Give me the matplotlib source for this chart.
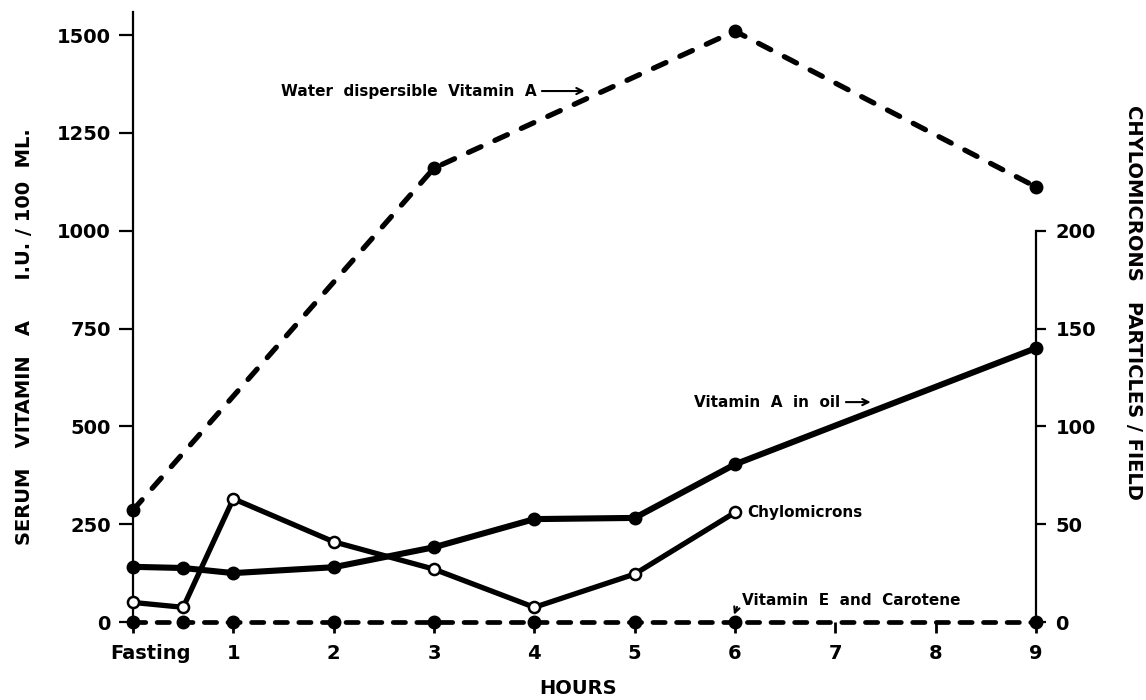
import matplotlib
matplotlib.use("Agg")
import matplotlib.pyplot as plt
from matplotlib.transforms import ScaledTranslation

plt.rcParams['font.family'] = ['DejaVu Sans']

# hours after dose (0 = fasting)
hours_water = [0, 3, 6, 9]
water_vit_a = [286, 1160, 1510, 1112]

hours_oil = [0, 0.5, 1, 2, 3, 4, 5, 6, 9]
oil_vit_a = [141, 138, 125, 140, 191, 263, 266, 403, 700]

hours_chylo = [0, 0.5, 1, 2, 3, 4, 5, 6]
chylomicrons = [10, 7.5, 63, 41, 27, 7.5, 24.5, 56]

hours_e = [0, 0.5, 1, 2, 3, 4, 5, 6, 9]
vit_e_carotene = [0, 0, 0, 0, 0, 0, 0, 0, 0]

xticks = [0, 1, 2, 3, 4, 5, 6, 7, 8, 9]
xlabels = ['Fasting', '1', '2', '3', '4', '5', '6', '7', '8', '9']
left_ticks = [0, 250, 500, 750, 1000, 1250, 1500]
right_ticks = [0, 50, 100, 150, 200]

fig = plt.figure(figsize=(11.46, 7.0), dpi=100)
ax = fig.add_axes([133/1146, 1 - 622/700, (1036-133)/1146, (622-12)/700])
ax.set_xlim(0, 9)
ax.set_ylim(0, 1559)

# chylomicrons on the right scale (200 particles = 1000 I.U.)
ax2 = ax.twinx()
ax2.set_ylim(0, 1559/5)

ax.plot(hours_water, water_vit_a, color='black', lw=3.8, ls=(0, (2.6, 2.9)),
        dash_capstyle='round', marker='o', ms=9, clip_on=False, zorder=4)
ax.plot(hours_oil, oil_vit_a, color='black', lw=4.4, marker='o', ms=9,
        clip_on=False, zorder=4)
ax.plot(hours_e, vit_e_carotene, color='black', lw=3.4, ls=(0, (2.6, 2.4)),
        dash_capstyle='round', marker='o', ms=9, clip_on=False, zorder=4)
ax2.plot(hours_chylo, chylomicrons, color='black', lw=3.8, marker='o', ms=8,
         mfc='white', mec='black', mew=1.8, clip_on=False, zorder=5)

for s in ['top', 'bottom']:
    ax.spines[s].set_visible(False)
    ax2.spines[s].set_visible(False)
ax.spines['right'].set_visible(False)
ax2.spines['left'].set_visible(False)
ax.spines['left'].set_linewidth(1.6)
ax2.spines['right'].set_linewidth(1.6)
ax2.spines['right'].set_bounds(0, 200)

ax.set_xticks(xticks)
ax.set_xticklabels(xlabels)
ax.set_yticks(left_ticks)
ax2.set_yticks(right_ticks)
ax.tick_params(axis='x', length=8, width=2, pad=8, labelsize=14)
ax.tick_params(axis='y', length=10, width=1.6, pad=6, labelsize=14)
ax2.tick_params(axis='y', length=7, width=1.6, pad=7, labelsize=14)
for lab in ax.get_xticklabels() + ax.get_yticklabels() + ax2.get_yticklabels():
    lab.set_fontweight('bold')

# "Fasting" sits a little right of its tick in the original
fl = ax.get_xticklabels()[0]
fl.set_transform(fl.get_transform() + ScaledTranslation(0.17, 0, fig.dpi_scale_trans))

fig.text(25/1146, 1 - 337/700, 'SERUM   VITAMIN   A      I.U. / 100  ML.', rotation=90,
         ha='center', va='center', fontsize=14, fontweight='bold')
fig.text(1133/1146, 1 - 302/700, 'CHYLOMICRONS   PARTICLES / FIELD', rotation=-90,
         ha='center', va='center', fontsize=14, fontweight='bold')
fig.text(578/1146, 1 - 688/700, 'HOURS', ha='center', va='center',
         fontsize=14, fontweight='bold')

arrow = dict(arrowstyle='->', color='black', lw=1.5)
ax.annotate('Water  dispersible  Vitamin  A', xy=(4.53, 1357), xytext=(4.02, 1357),
            ha='right', va='center', fontsize=11, fontweight='bold', arrowprops=arrow)
ax.annotate('Vitamin  A  in  oil', xy=(7.38, 562), xytext=(7.05, 562),
            ha='right', va='center', fontsize=11, fontweight='bold', arrowprops=arrow)
ax.text(6.12, 280, 'Chylomicrons', ha='left', va='center', fontsize=11, fontweight='bold')
ax.text(6.07, 54, 'Vitamin  E  and  Carotene', ha='left', va='center',
        fontsize=11, fontweight='bold')
ax.annotate('', xy=(5.98, 12), xytext=(6.03, 45),
            arrowprops=dict(arrowstyle='->', color='black', lw=1.5))

fig.savefig('out.png', dpi=100)
